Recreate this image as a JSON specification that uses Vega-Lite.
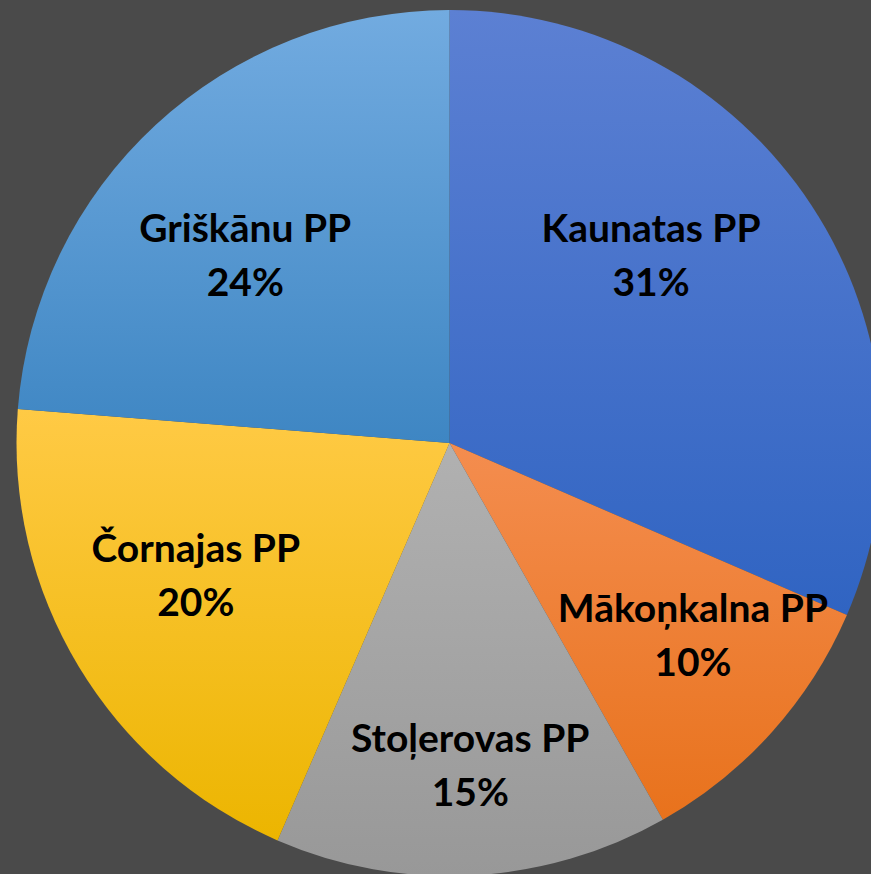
{
  "$schema": "https://vega.github.io/schema/vega-lite/v6.json",
  "width": 871,
  "height": 874,
  "autosize": {"type": "fit", "contains": "padding"},
  "padding": {"left": 28, "top": 12, "right": 0, "bottom": 0},
  "background": "#4a4a4a",
  "view": {"stroke": null},
  "data": {
    "values": [
      {"idx": 1, "name": "Kaunatas PP", "value": 31.5, "pct": "31%"},
      {"idx": 2, "name": "Mākoņkalna PP", "value": 10.3, "pct": "10%"},
      {"idx": 3, "name": "Stoļerovas PP", "value": 14.7, "pct": "15%"},
      {"idx": 4, "name": "Čornajas PP", "value": 19.75, "pct": "20%"},
      {"idx": 5, "name": "Griškānu PP", "value": 23.75, "pct": "24%"}
    ]
  },
  "transform": [
    {"stack": "value", "groupby": [], "sort": [{"field": "idx", "order": "ascending"}], "as": ["v0", "v1"]},
    {"calculate": "[datum.name, datum.pct]", "as": "label"}
  ],
  "resolve": {"scale": {"theta": "shared"}},
  "layer": [
    {
      "transform": [{"filter": "datum.idx == 1"}],
      "mark": {"type": "arc", "outerRadius": 433, "color": {"gradient": "linear", "x1": 0, "y1": 0, "x2": 0, "y2": 1, "stops": [{"offset": 0, "color": "#5c80d3"}, {"offset": 1, "color": "#3064c2"}]}},
      "encoding": {
        "theta": {"field": "v0", "type": "quantitative", "scale": {"domain": [0, 100]}},
        "theta2": {"field": "v1"}
      }
    },
    {
      "transform": [{"filter": "datum.idx == 2"}],
      "mark": {"type": "arc", "outerRadius": 433, "color": {"gradient": "linear", "x1": 0, "y1": 0, "x2": 0, "y2": 1, "stops": [{"offset": 0, "color": "#f48d4f"}, {"offset": 1, "color": "#e8721c"}]}},
      "encoding": {
        "theta": {"field": "v0", "type": "quantitative", "scale": {"domain": [0, 100]}},
        "theta2": {"field": "v1"}
      }
    },
    {
      "transform": [{"filter": "datum.idx == 3"}],
      "mark": {"type": "arc", "outerRadius": 433, "color": {"gradient": "linear", "x1": 0, "y1": 0, "x2": 0, "y2": 1, "stops": [{"offset": 0, "color": "#b1b1b1"}, {"offset": 1, "color": "#989898"}]}},
      "encoding": {
        "theta": {"field": "v0", "type": "quantitative", "scale": {"domain": [0, 100]}},
        "theta2": {"field": "v1"}
      }
    },
    {
      "transform": [{"filter": "datum.idx == 4"}],
      "mark": {"type": "arc", "outerRadius": 433, "color": {"gradient": "linear", "x1": 0, "y1": 0, "x2": 0, "y2": 1, "stops": [{"offset": 0, "color": "#ffca45"}, {"offset": 1, "color": "#ecb500"}]}},
      "encoding": {
        "theta": {"field": "v0", "type": "quantitative", "scale": {"domain": [0, 100]}},
        "theta2": {"field": "v1"}
      }
    },
    {
      "transform": [{"filter": "datum.idx == 5"}],
      "mark": {"type": "arc", "outerRadius": 433, "color": {"gradient": "linear", "x1": 0, "y1": 0, "x2": 0, "y2": 1, "stops": [{"offset": 0, "color": "#72abe0"}, {"offset": 1, "color": "#3e86c3"}]}},
      "encoding": {
        "theta": {"field": "v0", "type": "quantitative", "scale": {"domain": [0, 100]}},
        "theta2": {"field": "v1"}
      }
    },
    {
      "mark": {"type": "text", "radius": 295, "dx": -45, "dy": -51, "font": "Lato", "fontWeight": "bold", "fontSize": 39, "lineHeight": 54, "color": "#000000", "align": "center", "baseline": "middle"},
      "encoding": {
        "theta": {"field": "value", "type": "quantitative", "stack": true},
        "order": {"field": "idx", "type": "quantitative"},
        "text": {"condition": {"test": "datum.idx == 1", "field": "label"}, "value": ""}
      }
    },
    {
      "mark": {"type": "text", "radius": 295, "dx": 24, "dy": -30, "font": "Lato", "fontWeight": "bold", "fontSize": 39, "lineHeight": 54, "color": "#000000", "align": "center", "baseline": "middle"},
      "encoding": {
        "theta": {"field": "value", "type": "quantitative", "stack": true},
        "order": {"field": "idx", "type": "quantitative"},
        "text": {"condition": {"test": "datum.idx == 2", "field": "label"}, "value": ""}
      }
    },
    {
      "mark": {"type": "text", "radius": 295, "dx": 5, "dy": 2, "font": "Lato", "fontWeight": "bold", "fontSize": 39, "lineHeight": 54, "color": "#000000", "align": "center", "baseline": "middle"},
      "encoding": {
        "theta": {"field": "value", "type": "quantitative", "stack": true},
        "order": {"field": "idx", "type": "quantitative"},
        "text": {"condition": {"test": "datum.idx == 3", "field": "label"}, "value": ""}
      }
    },
    {
      "mark": {"type": "text", "radius": 295, "dx": -1, "dy": -45, "font": "Lato", "fontWeight": "bold", "fontSize": 39, "lineHeight": 54, "color": "#000000", "align": "center", "baseline": "middle"},
      "encoding": {
        "theta": {"field": "value", "type": "quantitative", "stack": true},
        "order": {"field": "idx", "type": "quantitative"},
        "text": {"condition": {"test": "datum.idx == 4", "field": "label"}, "value": ""}
      }
    },
    {
      "mark": {"type": "text", "radius": 295, "dx": -4, "dy": 4, "font": "Lato", "fontWeight": "bold", "fontSize": 39, "lineHeight": 54, "color": "#000000", "align": "center", "baseline": "middle"},
      "encoding": {
        "theta": {"field": "value", "type": "quantitative", "stack": true},
        "order": {"field": "idx", "type": "quantitative"},
        "text": {"condition": {"test": "datum.idx == 5", "field": "label"}, "value": ""}
      }
    }
  ]
}
